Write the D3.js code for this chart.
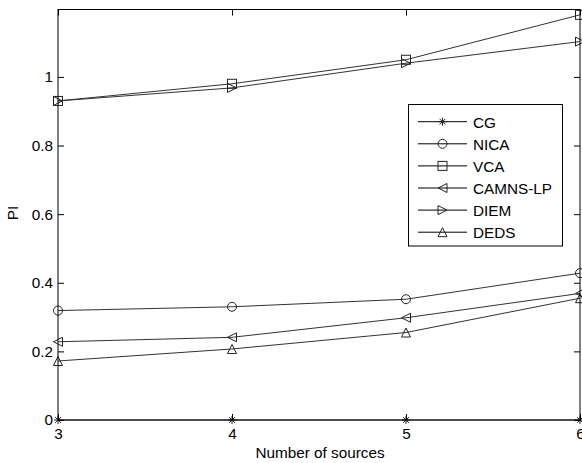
<!DOCTYPE html>
<html><head><meta charset="utf-8">
<script src="https://cdn.jsdelivr.net/npm/d3@7"></script>
<style>body{margin:0;background:#fff}svg{display:block}text{font-family:"Liberation Sans",Arial,sans-serif}</style>
</head><body><svg id="c" width="582" height="463"></svg>
<script>
const xValues = [3, 4, 5, 6];
const seriesNames = ["CG", "NICA", "VCA", "CAMNS-LP", "DIEM", "DEDS"];
const markers = ["star", "circle", "square", "tleft", "tright", "tup"];
const CG = [0, 0, 0, 0];
const NICA = [0.319, 0.330, 0.352, 0.428];
const VCA = [0.930, 0.980, 1.050, 1.181];
const CAMNS = [0.228, 0.241, 0.298, 0.369];
const DIEM = [0.930, 0.968, 1.040, 1.103];
const DEDS = [0.172, 0.207, 0.255, 0.355];
const seriesValues = [CG, NICA, VCA, CAMNS, DIEM, DEDS];
const xTicks = [3, 4, 5, 6];
const yTicks = [0, 0.2, 0.4, 0.6, 0.8, 1];
const yTickLabels = ["0", "0.2", "0.4", "0.6", "0.8", "1"];

const L = 58, R = 580, T = 9.5, B = 420;
const svg = d3.select("#c");
const x = d3.scaleLinear().domain([3, 6]).range([L, R]);
const y = d3.scaleLinear().domain([0, 1.1965]).range([B, T]);
const tk = 6, fs = 15.3;

const g = svg.append("g");
const line = d3.line().x((d, i) => x(xValues[i])).y(d => y(d));
const lineCol = "#333";
seriesValues.forEach((vals, si) => {
  g.append("path").attr("d", line(vals)).attr("fill", "none")
    .attr("stroke", lineCol).attr("stroke-width", 1);
});
function marker(sel, type, cx, cy) {
  const s = 4.5;
  const st = {fill: "none", stroke: "#222", "stroke-width": 1};
  let el;
  if (type === "circle") el = sel.append("circle").attr("cx", cx).attr("cy", cy).attr("r", s);
  else if (type === "square") el = sel.append("rect").attr("x", cx - s).attr("y", cy - s).attr("width", 2 * s).attr("height", 2 * s);
  else if (type === "tleft") el = sel.append("path").attr("d", `M${cx - s},${cy}L${cx + s},${cy - s}L${cx + s},${cy + s}Z`);
  else if (type === "tright") el = sel.append("path").attr("d", `M${cx + s},${cy}L${cx - s},${cy - s}L${cx - s},${cy + s}Z`);
  else if (type === "tup") el = sel.append("path").attr("d", `M${cx},${cy - s}L${cx + s},${cy + s}L${cx - s},${cy + s}Z`);
  else if (type === "star") {
    const a = 4, b = 2.9;
    el = sel.append("path").attr("d", `M${cx - a},${cy}L${cx + a},${cy}M${cx},${cy - a}L${cx},${cy + a}M${cx - b},${cy - b}L${cx + b},${cy + b}M${cx - b},${cy + b}L${cx + b},${cy - b}`);
  }
  for (const k in st) el.attr(k, st[k]);
}
seriesValues.forEach((vals, si) => {
  vals.forEach((v, i) => marker(g, markers[si], x(xValues[i]), y(v)));
});

const ax = svg.append("g");
ax.append("rect").attr("x", L).attr("y", T).attr("width", R - L).attr("height", B - T)
  .attr("fill", "none").attr("stroke", "#000").attr("stroke-width", 1);
const xAxisB = d3.axisBottom(x).tickValues(xTicks).tickSize(-tk).tickPadding(8).tickFormat(d3.format("d"));
const gx = ax.append("g").attr("transform", `translate(0,${B})`).call(xAxisB);
const xAxisT = d3.axisTop(x).tickValues(xTicks).tickSize(-tk).tickFormat("");
const gxt = ax.append("g").attr("transform", `translate(0,${T})`).call(xAxisT);
const yAxisL = d3.axisLeft(y).tickValues(yTicks).tickSize(-tk).tickPadding(5).tickFormat((d, i) => yTickLabels[i]);
const gy = ax.append("g").attr("transform", `translate(${L},0)`).call(yAxisL);
const yAxisR = d3.axisRight(y).tickValues(yTicks).tickSize(-tk).tickFormat("");
const gyr = ax.append("g").attr("transform", `translate(${R},0)`).call(yAxisR);
[gx, gxt, gy, gyr].forEach(a => {
  a.select(".domain").remove();
  a.selectAll("line").attr("stroke", "#000");
  a.selectAll("text").attr("font-size", fs).attr("fill", "#000").style("font-family", '"Liberation Sans",Arial,sans-serif');
});

svg.append("text").attr("x", (L + R) / 2 + 1).attr("y", 458).attr("text-anchor", "middle")
  .attr("font-size", fs).text("Number of sources");
svg.append("text").attr("transform", "translate(18,213) rotate(-90)").attr("text-anchor", "middle")
  .attr("font-size", fs).text("PI");

const lg = svg.append("g");
lg.append("rect").attr("x", 408.5).attr("y", 104.5).attr("width", 154).attr("height", 141.5)
  .attr("fill", "#fff").attr("stroke", "#000").attr("stroke-width", 1);
seriesNames.forEach((n, i) => {
  const yy = 121.7 + i * 22.1;
  lg.append("line").attr("x1", 418).attr("x2", 467).attr("y1", yy).attr("y2", yy)
    .attr("stroke", "#000").attr("stroke-width", 1);
  marker(lg, markers[i], 442.5, yy);
  lg.append("text").attr("x", 473).attr("y", yy + 5.8).attr("font-size", fs).text(n);
});
</script></body></html>
